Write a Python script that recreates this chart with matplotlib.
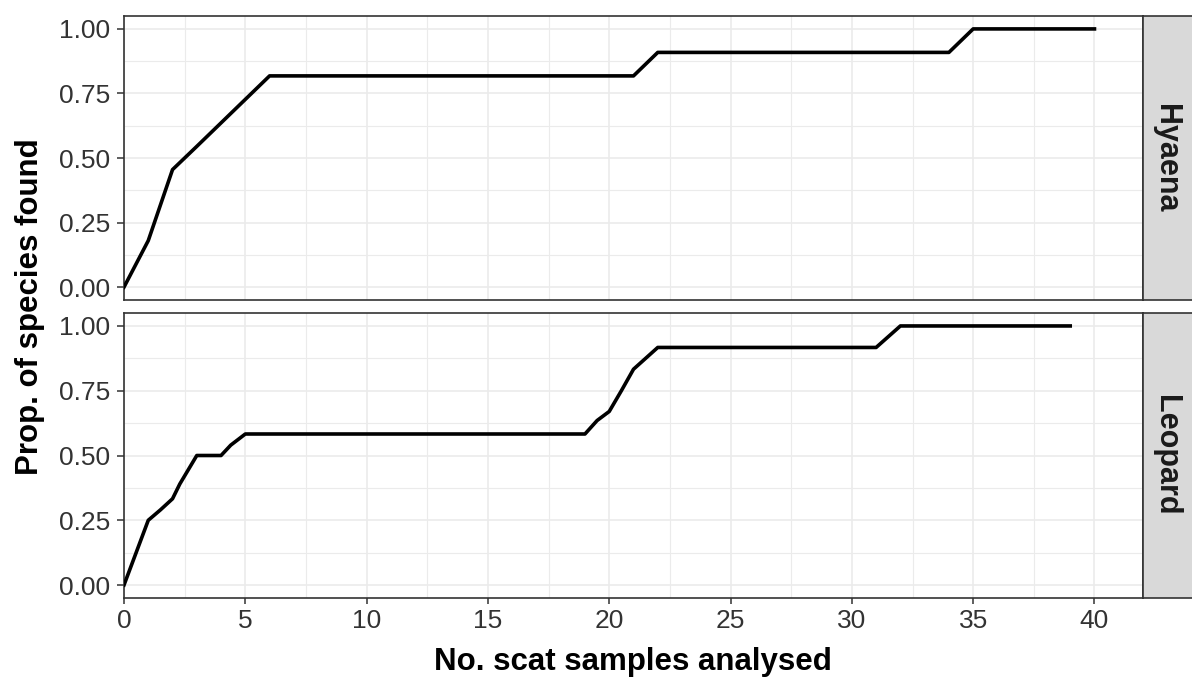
import matplotlib
matplotlib.use("Agg")
import matplotlib.pyplot as plt
from matplotlib.ticker import MultipleLocator

plt.rcParams['font.family'] = ['Liberation Sans', 'DejaVu Sans']

# ---- data ----
hyaena_x = [0, 1, 2, 3, 4, 5, 6, 21, 22, 34, 35, 40]
hyaena_y = [0.0, 0.18, 0.455, 0.545, 0.636, 0.727, 0.818, 0.818, 0.909, 0.909, 1.0, 1.0]

leopard_x = [0, 1, 1.5, 2, 2.3, 3, 4, 4.4, 5, 19, 19.5, 20, 20.5, 21, 21.5, 22, 31, 32, 39]
leopard_y = [0.0, 0.25, 0.29, 0.333, 0.39, 0.5, 0.5, 0.54, 0.583, 0.583, 0.635, 0.67,
             0.75, 0.833, 0.875, 0.917, 0.917, 1.0, 1.0]

panels = ["Hyaena", "Leopard"]
x_breaks = [0, 5, 10, 15, 20, 25, 30, 35, 40]
y_breaks = [0.0, 0.25, 0.5, 0.75, 1.0]
y_labels = ["0.00", "0.25", "0.50", "0.75", "1.00"]

W, H = 1192, 678
fig = plt.figure(figsize=(W / 100, H / 100), dpi=100)

def fx(px):
    return px / W

def fy(py):
    return 1 - py / H

border = '#333333'
gridc = '#EBEBEB'
left, right = 124, 1143
panel_rows = [(16, 300), (313, 598)]
data = [(hyaena_x, hyaena_y), (leopard_x, leopard_y)]
tick_fs = 19

for i, ((top, bot), (xs, ys), name) in enumerate(zip(panel_rows, data, panels)):
    ax = fig.add_axes([fx(left), fy(bot), fx(right) - fx(left), fy(top) - fy(bot)])
    ax.set_xlim(0, 42)
    ax.set_ylim(-0.05, 1.05)
    ax.xaxis.set_major_locator(MultipleLocator(5))
    ax.xaxis.set_minor_locator(MultipleLocator(2.5))
    ax.set_yticks(y_breaks)
    ax.set_yticklabels(y_labels)
    ax.yaxis.set_minor_locator(MultipleLocator(0.125))
    ax.grid(which='major', color=gridc, lw=1.2)
    ax.grid(which='minor', color=gridc, lw=0.8)
    ax.set_axisbelow(True)
    ax.plot(xs, ys, color='black', lw=2.6, solid_joinstyle='round', zorder=3)
    for s in ax.spines.values():
        s.set_color(border)
        s.set_linewidth(1.2)
    ax.tick_params(axis='y', which='major', length=5.2, width=1.1, color=border,
                   labelsize=tick_fs, labelcolor='#333333', pad=4.8)
    ax.tick_params(which='minor', length=0)
    if i == 0:
        ax.tick_params(axis='x', which='major', length=0, labelbottom=False)
    else:
        ax.set_xticks(x_breaks)
        ax.xaxis.set_minor_locator(MultipleLocator(2.5))
        ax.tick_params(axis='x', which='major', length=4.5, width=1.1, color=border,
                       labelsize=tick_fs, labelcolor='#333333', pad=3.5)
    # strip
    sax = fig.add_axes([fx(right), fy(bot), 0.06, fy(top) - fy(bot)])
    sax.set_facecolor('#D9D9D9')
    sax.set_xticks([])
    sax.set_yticks([])
    for s in sax.spines.values():
        s.set_color(border)
        s.set_linewidth(1.2)
    fig.text(fx(1166), fy((top + bot) / 2), name, rotation=-90, ha='center', va='center',
             fontsize=22, fontweight='bold', color='#1A1A1A')

fig.text(fx(633), fy(662), "No. scat samples analysed", ha='center', va='center',
         fontsize=22.5, fontweight='bold', color='black')
fig.text(fx(30), fy(307), "Prop. of species found", ha='center', va='center',
         rotation=90, fontsize=22.5, fontweight='bold', color='black')

fig.savefig("out.png", dpi=100)
